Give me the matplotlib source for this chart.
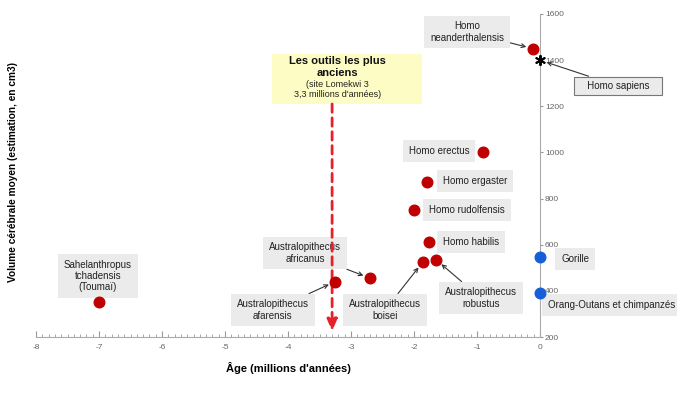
import matplotlib
matplotlib.use("Agg")
import matplotlib.pyplot as plt
from matplotlib.ticker import MultipleLocator

plt.rcParams['font.family'] = ['Liberation Sans', 'DejaVu Sans']
plt.rcParams['axes.unicode_minus'] = False

# Data
species = ["Sahelanthropus\ntchadensis\n(Toumaï)", "Australopithecus\nafarensis",
           "Australopithecus\nafricanus", "Australopithecus\nboisei",
           "Australopithecus\nrobustus", "Homo habilis", "Homo rudolfensis",
           "Homo ergaster", "Homo erectus", "Homo\nneanderthalensis"]
ages = [-7.0, -3.25, -2.7, -1.86, -1.65, -1.76, -2.0, -1.79, -0.9, -0.11]
volumes = [350, 440, 455, 525, 535, 610, 750, 870, 1000, 1450]

apes = ["Gorille", "Orang-Outans et chimpanzés"]
ape_ages = [0.0, 0.0]
ape_volumes = [545, 390]

sapiens_label = "Homo sapiens"
sapiens_age = 0.0
sapiens_volume = 1400

tools_age = -3.3
xticks = [-8, -7, -6, -5, -4, -3, -2, -1, 0]
yticks = [200, 400, 600, 800, 1000, 1200, 1400, 1600]

# label placement (layout)
label_pos = [(-7.02, 464), (-4.24, 317), (-3.73, 564), (-2.46, 317), (-0.94, 369),
             (-1.10, 612), (-1.16, 750), (-1.03, 876), (-1.60, 1006), (-1.16, 1522)]
arrow_idx = {1, 2, 3, 4, 9}
ape_label_pos = [(0.56, 538), (1.13, 339)]

fig = plt.figure(figsize=(6.77, 3.97), dpi=100)
ax = fig.add_axes([36/677, (397-337)/397, 504/677, 323/397])
ax.set_xlim(-8, 0)
ax.set_ylim(200, 1600)

for s in ['top', 'left']:
    ax.spines[s].set_visible(False)
for s in ['right', 'bottom']:
    ax.spines[s].set_color('#aaaaaa')
    ax.spines[s].set_linewidth(0.8)

ax.yaxis.tick_right()
ax.set_xticks(xticks)
ax.set_yticks(yticks)
ax.xaxis.set_minor_locator(MultipleLocator(0.1))
ax.tick_params(axis='x', which='major', direction='in', length=4, color='#999999',
               labelsize=6, labelcolor='#666666', pad=5)
ax.tick_params(axis='x', which='minor', direction='in', length=2.5, color='#999999')
ax.tick_params(axis='y', which='major', direction='out', length=2.5, color='#999999',
               labelsize=6, labelcolor='#666666', pad=1)

gray_box = dict(boxstyle='square,pad=0.6', fc='#ebebeb', ec='none')
arrowprops = dict(arrowstyle='->', color='#333333', lw=0.8, shrinkA=0, shrinkB=5)

ax.scatter(ages, volumes, s=58, color='#c00000', zorder=5, clip_on=False)
ax.scatter(ape_ages, ape_volumes, s=58, color='#1560d8', zorder=5, clip_on=False)
ax.scatter([sapiens_age], [sapiens_volume], marker=(6, 2, 0), s=45, color='black',
           linewidths=1.4, zorder=6, clip_on=False)

for i, (name, x, y) in enumerate(zip(species, ages, volumes)):
    tx, ty = label_pos[i]
    if i in arrow_idx:
        ax.annotate(name, xy=(x, y), xytext=(tx, ty), ha='center', va='center',
                    fontsize=7, color='#222222', bbox=gray_box,
                    arrowprops=arrowprops, annotation_clip=False, linespacing=1.15)
    else:
        ax.text(tx, ty, name, ha='center', va='center', fontsize=7, color='#222222',
                bbox=gray_box, linespacing=1.15)

for name, (tx, ty) in zip(apes, ape_label_pos):
    ax.text(tx, ty, name, ha='center', va='center', fontsize=7, color='#222222',
            bbox=gray_box, clip_on=False)

ax.annotate("   " + sapiens_label + "   ", xy=(sapiens_age, sapiens_volume),
            xytext=(1.24, 1288),
            ha='center', va='center', fontsize=7, color='#222222',
            bbox=dict(boxstyle='square,pad=0.45', fc='#ebebeb', ec='#777777', lw=0.8),
            arrowprops=arrowprops, annotation_clip=False)

# tools line
ax.annotate('', xy=(tools_age, 225), xytext=(tools_age, 1210),
            arrowprops=dict(arrowstyle='-|>,head_width=0.3,head_length=0.7',
                            color='#e8202a', lw=2, linestyle=(0, (3, 2)),
                            shrinkA=0, shrinkB=0))
ax.text(-3.22, 1322, "Les outils les plus\nanciens", ha='center', va='bottom',
        fontsize=8, fontweight='bold', color='#111111', linespacing=1.25,
        zorder=7)
ax.text(-3.22, 1316, "(site Lomekwi 3\n3,3 millions d'années)", ha='center', va='top',
        fontsize=6.5, color='#222222', linespacing=1.2, zorder=7)
ax.add_patch(plt.Rectangle((-4.25, 1210), 2.37, 217, fc='#fdfcc4', ec='none',
                           zorder=1, clip_on=False))

ax.set_xlabel("Âge (millions d'années)", fontsize=8, fontweight='bold', labelpad=8)
fig.text(13/677, 1 - 172/397, "Volume cérébrale moyen (estimation, en cm3)",
         rotation=90, ha='center', va='center', fontsize=7.3, fontweight='bold')

fig.savefig('out.png', dpi=100)
